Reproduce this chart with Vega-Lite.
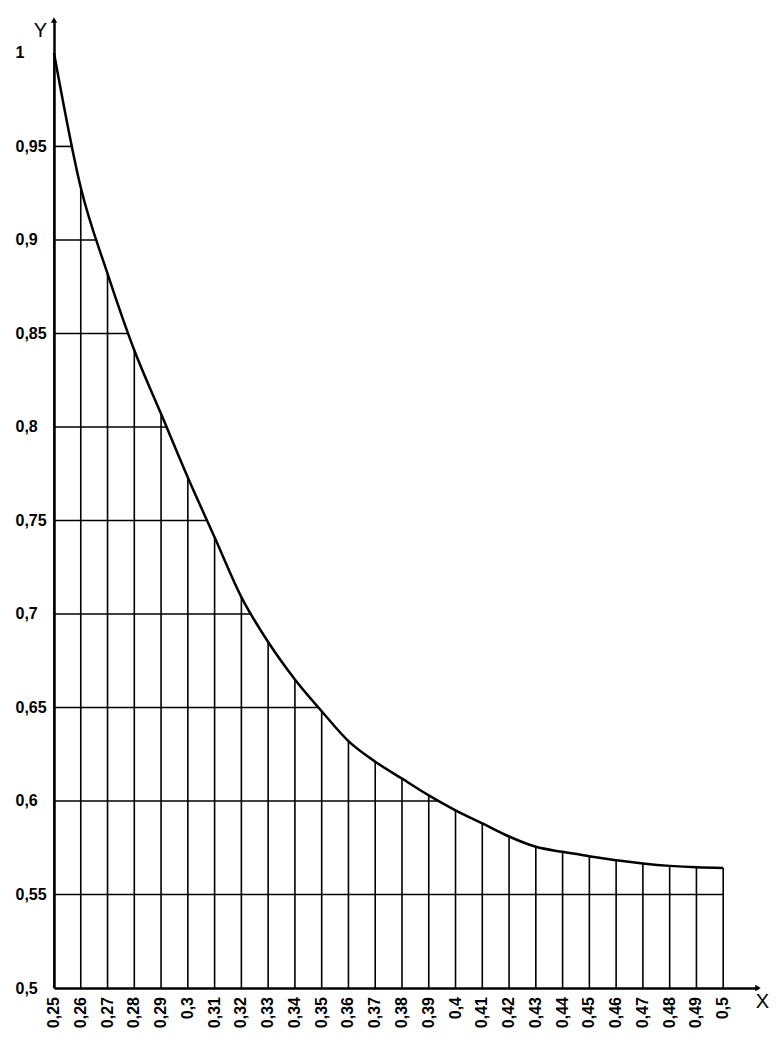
{
  "$schema": "https://vega.github.io/schema/vega-lite/v6.json",
  "width": 704,
  "height": 968,
  "autosize": {"type": "none"},
  "padding": {"left": 54, "top": 20, "right": 18, "bottom": 70},
  "background": "white",
  "config": {
    "view": {"stroke": null},
    "font": "Liberation Sans"
  },
  "datasets": {
    "curve": [
      {"x": 0.25, "y": 1.0},
      {"x": 0.26, "y": 0.928},
      {"x": 0.27, "y": 0.882},
      {"x": 0.28, "y": 0.841},
      {"x": 0.29, "y": 0.807},
      {"x": 0.30, "y": 0.773},
      {"x": 0.31, "y": 0.741},
      {"x": 0.32, "y": 0.709},
      {"x": 0.33, "y": 0.685},
      {"x": 0.34, "y": 0.665},
      {"x": 0.35, "y": 0.648},
      {"x": 0.36, "y": 0.632},
      {"x": 0.37, "y": 0.621},
      {"x": 0.38, "y": 0.612},
      {"x": 0.39, "y": 0.603},
      {"x": 0.40, "y": 0.595},
      {"x": 0.41, "y": 0.588},
      {"x": 0.42, "y": 0.581},
      {"x": 0.43, "y": 0.5755},
      {"x": 0.44, "y": 0.5728},
      {"x": 0.45, "y": 0.5705},
      {"x": 0.46, "y": 0.5683},
      {"x": 0.47, "y": 0.5666},
      {"x": 0.48, "y": 0.5653},
      {"x": 0.49, "y": 0.5645},
      {"x": 0.50, "y": 0.5642}
    ],
    "hlines": [
      {"y": 0.95, "x": 0.2569},
      {"y": 0.90, "x": 0.2661},
      {"y": 0.85, "x": 0.2778},
      {"y": 0.80, "x": 0.2921},
      {"y": 0.75, "x": 0.3072},
      {"y": 0.70, "x": 0.3238},
      {"y": 0.65, "x": 0.3488},
      {"y": 0.60, "x": 0.3938},
      {"y": 0.55, "x": 0.5}
    ],
    "arrows": [
      {"x": 0.25, "y": 1.0176, "dir": "up"},
      {"x": 0.513, "y": 0.5, "dir": "right"}
    ]
  },
  "layer": [
    {
      "data": {"name": "curve"},
      "mark": {"type": "rule", "color": "black", "strokeWidth": 1.6},
      "encoding": {
        "x": {
          "field": "x", "type": "quantitative",
          "scale": {"domain": [0.25, 0.513], "nice": false, "zero": false},
          "axis": {
            "values": [0.25,0.26,0.27,0.28,0.29,0.3,0.31,0.32,0.33,0.34,0.35,0.36,0.37,0.38,0.39,0.4,0.41,0.42,0.43,0.44,0.45,0.46,0.47,0.48,0.49,0.5],
            "labels": false,
            "ticks": false,
            "grid": false,
            "domainColor": "black",
            "domainWidth": 2.5,
            "title": "X",
            "titleAngle": 0,
            "titleX": 708,
            "titleY": 13,
            "titleAlign": "center",
            "titleBaseline": "middle",
            "titleFontSize": 20,
            "titleFontWeight": "normal",
            "titleColor": "black"
          }
        },
        "y": {
          "field": "y", "type": "quantitative",
          "scale": {"domain": [0.5, 1.0176], "nice": false, "zero": false},
          "axis": {
            "values": [0.5,0.55,0.6,0.65,0.7,0.75,0.8,0.85,0.9,0.95,1],
            "labelExpr": "replace(format(datum.value, '.2~f'), '.', ',')",
            "labelAlign": "left",
            "labelPadding": 39,
            "labelFontSize": 16,
            "labelFontWeight": "bold",
            "labelColor": "black",
            "labelOverlap": false,
            "labelFlush": false,
            "ticks": false,
            "tickSize": 0,
            "grid": false,
            "domainColor": "black",
            "domainWidth": 2.5,
            "title": "Y",
            "titleAngle": 0,
            "titleX": -14,
            "titleY": 10,
            "titleAlign": "center",
            "titleBaseline": "middle",
            "titleFontSize": 20,
            "titleFontWeight": "normal",
            "titleColor": "black"
          }
        },
        "y2": {"datum": 0.5}
      }
    },
    {
      "data": {"name": "hlines"},
      "mark": {"type": "rule", "color": "black", "strokeWidth": 1.6},
      "encoding": {
        "x": {"field": "x", "type": "quantitative"},
        "x2": {"datum": 0.25},
        "y": {"field": "y", "type": "quantitative"}
      }
    },
    {
      "data": {"name": "curve"},
      "mark": {"type": "line", "color": "black", "strokeWidth": 2.5, "interpolate": "monotone"},
      "encoding": {
        "x": {"field": "x", "type": "quantitative"},
        "y": {"field": "y", "type": "quantitative"}
      }
    },
    {
      "data": {"name": "curve"},
      "transform": [{"calculate": "replace(format(datum.x, '.2~f'), '.', ',')", "as": "label"}],
      "mark": {"type": "text", "angle": 270, "align": "right", "baseline": "middle", "dx": -9, "fontSize": 16, "fontWeight": "bold", "color": "black"},
      "encoding": {
        "x": {"field": "x", "type": "quantitative"},
        "y": {"datum": 0.5, "type": "quantitative"},
        "text": {"field": "label"}
      }
    },
    {
      "data": {"name": "arrows"},
      "mark": {"type": "point", "filled": true, "color": "black", "size": 40, "opacity": 1},
      "encoding": {
        "x": {"field": "x", "type": "quantitative"},
        "y": {"field": "y", "type": "quantitative"},
        "shape": {"field": "dir", "type": "nominal", "scale": {"domain": ["up", "right"], "range": ["triangle-up", "triangle-right"]}, "legend": null}
      }
    }
  ]
}
